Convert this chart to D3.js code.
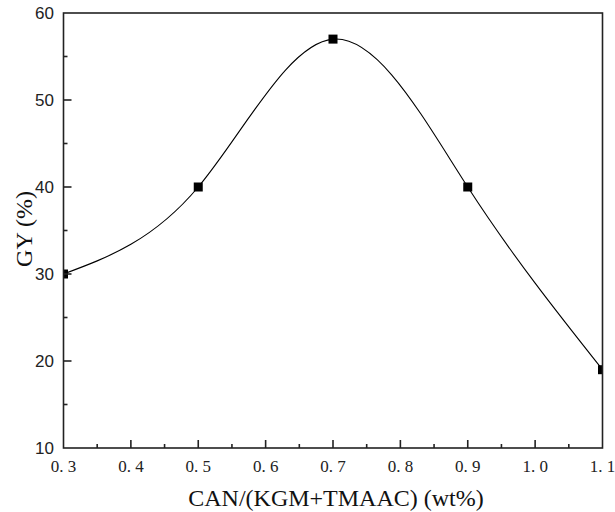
<!DOCTYPE html>
<html><head><meta charset="utf-8">
<script src="https://cdn.jsdelivr.net/npm/d3@7"></script>
<style>body{margin:0;background:#fff}</style>
</head><body>
<svg id="c" width="615" height="512"></svg>
<script>
const xValues = [0.3, 0.5, 0.7, 0.9, 1.1];
const gyValues = [30, 40, 57, 40, 19];
const xTicks = [0.3, 0.4, 0.5, 0.6, 0.7, 0.8, 0.9, 1.0, 1.1];
const xTickLabels = ["0. 3", "0. 4", "0. 5", "0. 6", "0. 7", "0. 8", "0. 9", "1. 0", "1. 1"];
const yTicks = [10, 20, 30, 40, 50, 60];

const svg = d3.select("#c");
const m = {l: 63.5, r: 602.5, t: 13, b: 448};
const x = d3.scaleLinear().domain([0.3, 1.1]).range([m.l, m.r]);
const y = d3.scaleLinear().domain([10, 60]).range([m.b, m.t]);

svg.append("defs").append("clipPath").attr("id", "clip")
  .append("rect").attr("x", m.l).attr("y", m.t).attr("width", m.r - m.l).attr("height", m.b - m.t);

const data = xValues.map((v, i) => ({x: v, y: gyValues[i]}));
const line = d3.line().x(d => x(d.x)).y(d => y(d.y)).curve(d3.curveNatural);
const g = svg.append("g").attr("clip-path", "url(#clip)");
g.append("path").datum(data).attr("d", line).attr("fill", "none").attr("stroke", "#000").attr("stroke-width", 1.1);
g.selectAll("rect.pt").data(data).enter().append("rect")
  .attr("x", d => x(d.x) - 4.5).attr("y", d => y(d.y) - 4.5).attr("width", 9).attr("height", 9).attr("fill", "#000");

// frame
svg.append("rect").attr("x", m.l).attr("y", m.t).attr("width", m.r - m.l).attr("height", m.b - m.t)
  .attr("fill", "none").attr("stroke", "#222").attr("stroke-width", 1.6);

// y axis ticks (inward)
const yMinor = d3.range(15, 60, 10);
svg.selectAll("line.ym").data(yTicks.slice(1, -1)).enter().append("line")
  .attr("x1", m.l).attr("x2", m.l + 8).attr("y1", d => y(d)).attr("y2", d => y(d)).attr("stroke", "#222").attr("stroke-width", 1.6);
svg.selectAll("line.yn").data(yMinor).enter().append("line")
  .attr("x1", m.l).attr("x2", m.l + 4).attr("y1", d => y(d)).attr("y2", d => y(d)).attr("stroke", "#222").attr("stroke-width", 1.6);
svg.selectAll("text.yl").data(yTicks).enter().append("text")
  .attr("x", 54).attr("y", d => y(d) + 6).attr("text-anchor", "end")
  .attr("font-family", "Liberation Sans, Arial, sans-serif").attr("font-size", 17).attr("fill", "#222").text(d => d);

// x axis ticks
const xMinor = d3.range(0.35, 1.1, 0.1);
svg.selectAll("line.xm").data(xTicks.slice(1, -1)).enter().append("line")
  .attr("x1", d => x(d)).attr("x2", d => x(d)).attr("y1", m.b).attr("y2", m.b - 8).attr("stroke", "#222").attr("stroke-width", 1.6);
svg.selectAll("line.xn").data(xMinor).enter().append("line")
  .attr("x1", d => x(d)).attr("x2", d => x(d)).attr("y1", m.b).attr("y2", m.b - 4).attr("stroke", "#222").attr("stroke-width", 1.6);
svg.selectAll("text.xl").data(xTicks).enter().append("text")
  .attr("x", d => x(d)).attr("y", 472).attr("text-anchor", "middle")
  .attr("font-family", "Liberation Serif, Times New Roman, serif").attr("font-size", 17).attr("fill", "#222")
  .attr("xml:space", "preserve").style("white-space", "pre").text((d, i) => xTickLabels[i]);

// titles
svg.append("text").attr("x", 336).attr("y", 506).attr("text-anchor", "middle")
  .attr("font-family", "Liberation Serif, Times New Roman, serif").attr("font-size", 24).attr("fill", "#111")
  .text("CAN/(KGM+TMAAC) (wt%)");
svg.append("text").attr("transform", "translate(32,229) rotate(-90)").attr("text-anchor", "middle")
  .attr("font-family", "Liberation Serif, Times New Roman, serif").attr("font-size", 24).attr("fill", "#111")
  .text("GY (%)");
</script>
</body></html>
